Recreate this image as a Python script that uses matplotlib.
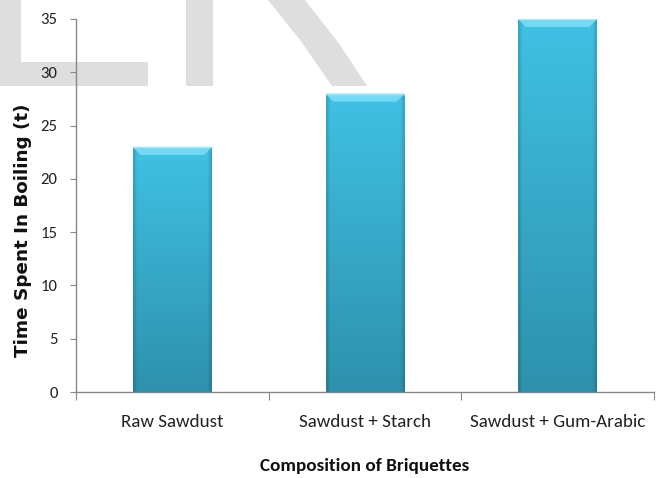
import numpy as np
import matplotlib
matplotlib.use("Agg")
import matplotlib.pyplot as plt
import matplotlib.patheffects as pe
from matplotlib import font_manager
from matplotlib.font_manager import FontProperties
from matplotlib.patches import Polygon

categories = ["Raw Sawdust", "Sawdust + Starch", "Sawdust + Gum-Arabic"]
boil_time = [23, 28, 35]
y_ticks = [0, 5, 10, 15, 20, 25, 30, 35]

W, H = 660, 478
BAR_WIDTH = 0.41
TOP_COLOR = np.array([64, 193, 228]) / 255
BOTTOM_COLOR = np.array([46, 145, 172]) / 255
BEVEL_COLOR = "#74d9f4"


def has_font(name):
    try:
        font_manager.findfont(FontProperties(family=name), fallback_to_default=False)
        return True
    except ValueError:
        return False


# Calibri-like text if Carlito is there, otherwise a condensed sans
HAS_CARLITO = has_font("Carlito")
NARROW = ["Carlito" if HAS_CARLITO else "Sofia Sans Condensed", "DejaVu Sans"]

fig = plt.figure(figsize=(W / 100, H / 100), dpi=100)
renderer = fig.canvas.get_renderer()


def fit_size(text, family, target_px, weight="normal"):
    tmp = fig.text(0, 0, text, fontsize=10, family=family, fontweight=weight)
    width = tmp.get_window_extent(renderer).width
    tmp.remove()
    return 10 * target_px / width


def px(x, y):
    return (x / W, 1 - y / H)


# faint grey watermark letters behind everything
mark_shapes = [
    [(0, 0), (21, 0), (21, 62), (148, 62), (148, 86), (0, 86)],
    [(186, 0), (213, 0), (213, 86), (186, 86)],
    [(268, 0), (305, 0), (340, 45), (367, 86), (332, 86), (300, 40)],
]
for shape in mark_shapes:
    fig.patches.append(Polygon([px(*p) for p in shape], closed=True, transform=fig.transFigure,
                               facecolor="#dedede", edgecolor="none", zorder=-5))

ax = fig.add_axes([76 / W, 1 - 392 / H, (654 - 76) / W, (392 - 19) / H])
ax.patch.set_alpha(0)

x = np.arange(len(categories))
bars = ax.bar(x, boil_time, width=BAR_WIDTH, facecolor="none", edgecolor="none", zorder=2)

# shaded fill: vertical gradient with darker side edges
ny, nx = 200, 60
t = np.linspace(0, 1, ny)[:, None, None]
grad = TOP_COLOR * (1 - t) + BOTTOM_COLOR * t
u = np.linspace(0, 1, nx)
edge = 1 - 0.15 * (np.clip(1 - u / 0.05, 0, 1) + np.clip((u - 0.95) / 0.05, 0, 1))
img = np.clip(grad * edge[None, :, None], 0, 1)

for rect, val in zip(bars, boil_time):
    x0 = rect.get_x()
    x1 = x0 + rect.get_width()
    im = ax.imshow(img, extent=(x0, x1, 0, val), aspect="auto", origin="upper",
                   interpolation="bilinear", zorder=2)
    im.set_clip_path(rect)
    inset = 0.04
    bevel_h = 0.75
    ax.add_patch(Polygon([(x0, val), (x1, val), (x1 - inset, val - bevel_h), (x0 + inset, val - bevel_h)],
                         closed=True, facecolor=BEVEL_COLOR, edgecolor="none", zorder=3))
    ax.plot([x0, x1], [val, val], color="#a6e8f8", lw=1, zorder=4)

ax.set_xlim(-0.5, len(categories) - 0.5)
ax.set_ylim(0, 35)
ax.set_yticks(y_ticks)

xtick_size = fit_size("Raw Sawdust", NARROW, 103)
ytick_size = fit_size("35", NARROW, 17)

ax.set_xticks(np.arange(len(categories) + 1) - 0.5)
ax.set_xticklabels([])
ax.set_xticks(x, minor=True)
ax.set_xticklabels(categories, minor=True, family=NARROW, fontsize=xtick_size, color="#222222")
ax.tick_params(axis="x", which="minor", length=0, pad=16)
ax.tick_params(axis="x", which="major", length=5.5, color="#888888", direction="out")
ax.tick_params(axis="y", length=4.3, color="#888888", direction="out", pad=9)
for lab in ax.get_yticklabels():
    lab.set_family(NARROW)
    lab.set_fontsize(ytick_size)
    lab.set_color("#222222")

for side in ("top", "right"):
    ax.spines[side].set_visible(False)
for side in ("left", "bottom"):
    ax.spines[side].set_color("#888888")
    ax.spines[side].set_linewidth(1.0)

ylab_size = fit_size("Time Spent In Boiling (t)", "DejaVu Sans", 254, weight="bold")
ax.set_ylabel("Time Spent In Boiling (t)", fontsize=ylab_size, fontweight="bold",
              family="DejaVu Sans", color="#111111")
ax.yaxis.set_label_coords(-44 / (654 - 76), (392 - 230) / (392 - 19))

xlab_weight = "bold" if HAS_CARLITO else "normal"
xlab_size = fit_size("Composition of Briquettes", NARROW, 209, weight=xlab_weight)
xl = ax.set_xlabel("Composition of Briquettes", fontsize=xlab_size, family=NARROW,
                   fontweight=xlab_weight, color="#111111")
ax.xaxis.set_label_coords(0.5, -(466 - 392) / (392 - 19))
xl.set_va("center")
if not HAS_CARLITO:
    xl.set_path_effects([pe.withStroke(linewidth=0.9, foreground="#111111")])

fig.savefig("out.png", dpi=100)
